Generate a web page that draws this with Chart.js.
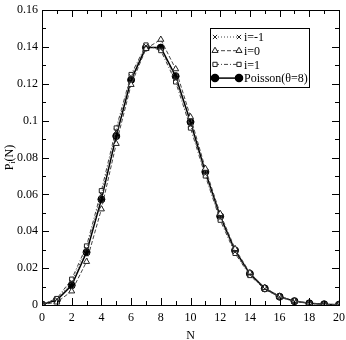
<!DOCTYPE html>
<html>
<head>
<meta charset="utf-8">
<script src="https://cdn.jsdelivr.net/npm/chart.js@4.4.0/dist/chart.umd.min.js"></script>
<style>
  html, body { margin: 0; padding: 0; background: #fff; }
  #wrap { width: 346px; height: 340px; }
</style>
</head>
<body>
<div id="wrap"><canvas id="chart"></canvas></div>
<script>
// valores
const nValues = [0, 1, 2, 3, 4, 5, 6, 7, 8, 9, 10, 11, 12, 13, 14, 15, 16, 17, 18, 19, 20];
const pMinus1 = [0.0004, 0.0031, 0.0125, 0.0305, 0.0600, 0.0945, 0.1240, 0.1405, 0.1390, 0.1225, 0.0975, 0.0710, 0.0470, 0.0288, 0.0165, 0.0088, 0.0044, 0.0020, 0.0009, 0.0004, 0.0002];
const pZero   = [0.0002, 0.0015, 0.0075, 0.0235, 0.0520, 0.0875, 0.1195, 0.1390, 0.1440, 0.1280, 0.1020, 0.0740, 0.0495, 0.0305, 0.0175, 0.0094, 0.0047, 0.0022, 0.0010, 0.0004, 0.0002];
const pPlus1  = [0.0005, 0.0035, 0.0140, 0.0320, 0.0620, 0.0960, 0.1250, 0.1410, 0.1380, 0.1210, 0.0960, 0.0700, 0.0460, 0.0280, 0.0160, 0.0085, 0.0042, 0.0019, 0.0008, 0.0003, 0.0001];
const poisson = [0.0003, 0.0027, 0.0107, 0.0286, 0.0573, 0.0916, 0.1221, 0.1396, 0.1396, 0.1241, 0.0993, 0.0722, 0.0481, 0.0296, 0.0169, 0.0090, 0.0045, 0.0021, 0.0009, 0.0004, 0.0002];
const xMajorTicks = [0, 2, 4, 6, 8, 10, 12, 14, 16, 18, 20];
const yMajorTicks = [0, 0.02, 0.04, 0.06, 0.08, 0.1, 0.12, 0.14, 0.16];

const serif = "'Liberation Serif', 'DejaVu Serif', serif";

function toPoints(arr) {
    return nValues.map((n, i) => ({ x: n, y: arr[i] }));
}

const datasets = [
    {
        label: 'i=-1',
        data: toPoints(pMinus1),
        borderColor: '#444',
        borderWidth: 1,
        borderDash: [1, 2],
        pointStyle: 'crossRot',
        pointRadius: 3,
        pointBorderColor: '#222',
        pointBackgroundColor: '#222',
        pointBorderWidth: 1
    },
    {
        label: 'i=0',
        data: toPoints(pZero),
        borderColor: '#444',
        borderWidth: 1,
        borderDash: [4, 2],
        pointStyle: 'triangle',
        pointRadius: 3.5,
        pointBorderColor: '#222',
        pointBackgroundColor: '#fff',
        pointBorderWidth: 1
    },
    {
        label: 'i=1',
        data: toPoints(pPlus1),
        borderColor: '#444',
        borderWidth: 1,
        borderDash: [4, 2, 1, 2],
        pointStyle: 'rect',
        pointRadius: 3,
        pointBorderColor: '#222',
        pointBackgroundColor: '#fff',
        pointBorderWidth: 1
    },
    {
        label: 'Poisson(θ=8)',
        data: toPoints(poisson),
        borderColor: '#000',
        borderWidth: 1.5,
        pointStyle: 'circle',
        pointRadius: 3.5,
        pointBorderColor: '#000',
        pointBackgroundColor: '#000',
        pointBorderWidth: 1
    }
];

// marco, marcas hacia dentro, titulos de ejes y leyenda
const framePlugin = {
    id: 'frame',
    afterDatasetsDraw(chart) {
        const ctx = chart.ctx;
        const a = chart.chartArea;
        const xs = chart.scales.x;
        const ys = chart.scales.y;
        ctx.save();
        ctx.strokeStyle = '#000';
        ctx.lineWidth = 1;
        ctx.strokeRect(a.left + 0.5, a.top + 0.5, a.right - a.left, a.bottom - a.top);
        ctx.beginPath();
        for (let v = 0; v <= 20; v++) {
            const px = Math.round(xs.getPixelForValue(v)) + 0.5;
            const len = v % 2 === 0 ? 7 : 4;
            ctx.moveTo(px, a.bottom); ctx.lineTo(px, a.bottom - len);
            ctx.moveTo(px, a.top); ctx.lineTo(px, a.top + len);
        }
        for (let k = 0; k <= 16; k++) {
            const py = Math.round(ys.getPixelForValue(k / 100)) + 0.5;
            const len = k % 2 === 0 ? 7 : 4;
            ctx.moveTo(a.left, py); ctx.lineTo(a.left + len, py);
            ctx.moveTo(a.right, py); ctx.lineTo(a.right - len, py);
        }
        ctx.stroke();
        ctx.restore();
    },
    afterDraw(chart) {
        const ctx = chart.ctx;
        const a = chart.chartArea;
        ctx.save();
        ctx.fillStyle = '#000';
        // titulo eje x
        ctx.font = '12px ' + serif;
        ctx.textAlign = 'center';
        ctx.textBaseline = 'middle';
        ctx.fillText('N', (a.left + a.right) / 2, 336);
        // titulo eje y con subindice
        ctx.save();
        ctx.translate(10, (a.top + a.bottom) / 2);
        ctx.rotate(-Math.PI / 2);
        ctx.textAlign = 'left';
        const wP = ctx.measureText('P').width;
        ctx.font = '8px ' + serif;
        const wi = ctx.measureText('i').width;
        ctx.font = '12px ' + serif;
        const wN = ctx.measureText('(N)').width;
        let x = -(wP + wi + wN) / 2;
        ctx.fillText('P', x, 0);
        x += wP;
        ctx.font = '8px ' + serif;
        ctx.fillText('i', x, 3);
        x += wi;
        ctx.font = '12px ' + serif;
        ctx.fillText('(N)', x, 0);
        ctx.restore();

        // leyenda dentro del area
        const bx = 210, by = 28, bw = 99, bh = 59;
        ctx.fillStyle = '#fff';
        ctx.fillRect(bx, by, bw, bh);
        ctx.strokeStyle = '#000';
        ctx.lineWidth = 1;
        ctx.strokeRect(bx + 0.5, by + 0.5, bw, bh);
        ctx.font = '12px ' + serif;
        ctx.textAlign = 'left';
        ctx.textBaseline = 'middle';
        chart.data.datasets.forEach((ds, i) => {
            const y = by + 9 + i * 13.7;
            const x0 = bx + 5, x1 = bx + 29;
            ctx.strokeStyle = ds.borderColor;
            ctx.lineWidth = ds.borderWidth;
            ctx.setLineDash(ds.borderDash || []);
            ctx.beginPath();
            ctx.moveTo(x0, y); ctx.lineTo(x1, y);
            ctx.stroke();
            ctx.setLineDash([]);
            ctx.strokeStyle = ds.pointBorderColor;
            ctx.fillStyle = ds.pointBackgroundColor;
            const opts = { pointStyle: ds.pointStyle, radius: ds.pointRadius, borderWidth: ds.pointBorderWidth, rotation: 0 };
            Chart.helpers.drawPoint(ctx, opts, x0, y);
            Chart.helpers.drawPoint(ctx, opts, x1, y);
            ctx.fillStyle = '#000';
            ctx.fillText(ds.label, bx + 34, y + 1);
        });
        ctx.restore();
    }
};

const ctx = document.getElementById('chart').getContext('2d');
const chart = new Chart(ctx, {
    type: 'line',
    data: { datasets: datasets },
    options: {
        responsive: true,
        maintainAspectRatio: false,
        animation: false,
        layout: { padding: { top: 10, right: 7, left: 0, bottom: 0 } },
        plugins: {
            legend: { display: false },
            tooltip: { enabled: false }
        },
        scales: {
            x: {
                type: 'linear',
                min: 0,
                max: 20,
                grid: { display: false, drawTicks: false },
                border: { display: false },
                afterBuildTicks: scale => { scale.ticks = xMajorTicks.map(v => ({ value: v })); },
                afterFit: scale => {
                    scale.height = 35;
                    scale.paddingLeft = 0;
                    scale.paddingRight = 0;
                },
                ticks: {
                    color: '#000',
                    padding: 6,
                    maxRotation: 0,
                    font: { family: serif, size: 12 }
                }
            },
            y: {
                type: 'linear',
                min: 0,
                max: 0.16,
                grid: { display: false, drawTicks: false },
                border: { display: false },
                afterBuildTicks: scale => { scale.ticks = yMajorTicks.map(v => ({ value: v })); },
                afterFit: scale => {
                    scale.width = 42;
                    scale.paddingTop = 0;
                    scale.paddingBottom = 0;
                },
                ticks: {
                    color: '#000',
                    padding: 4,
                    font: { family: serif, size: 12 },
                    callback: v => String(+v.toFixed(2))
                }
            }
        }
    },
    plugins: [framePlugin]
});
</script>
</body>
</html>
